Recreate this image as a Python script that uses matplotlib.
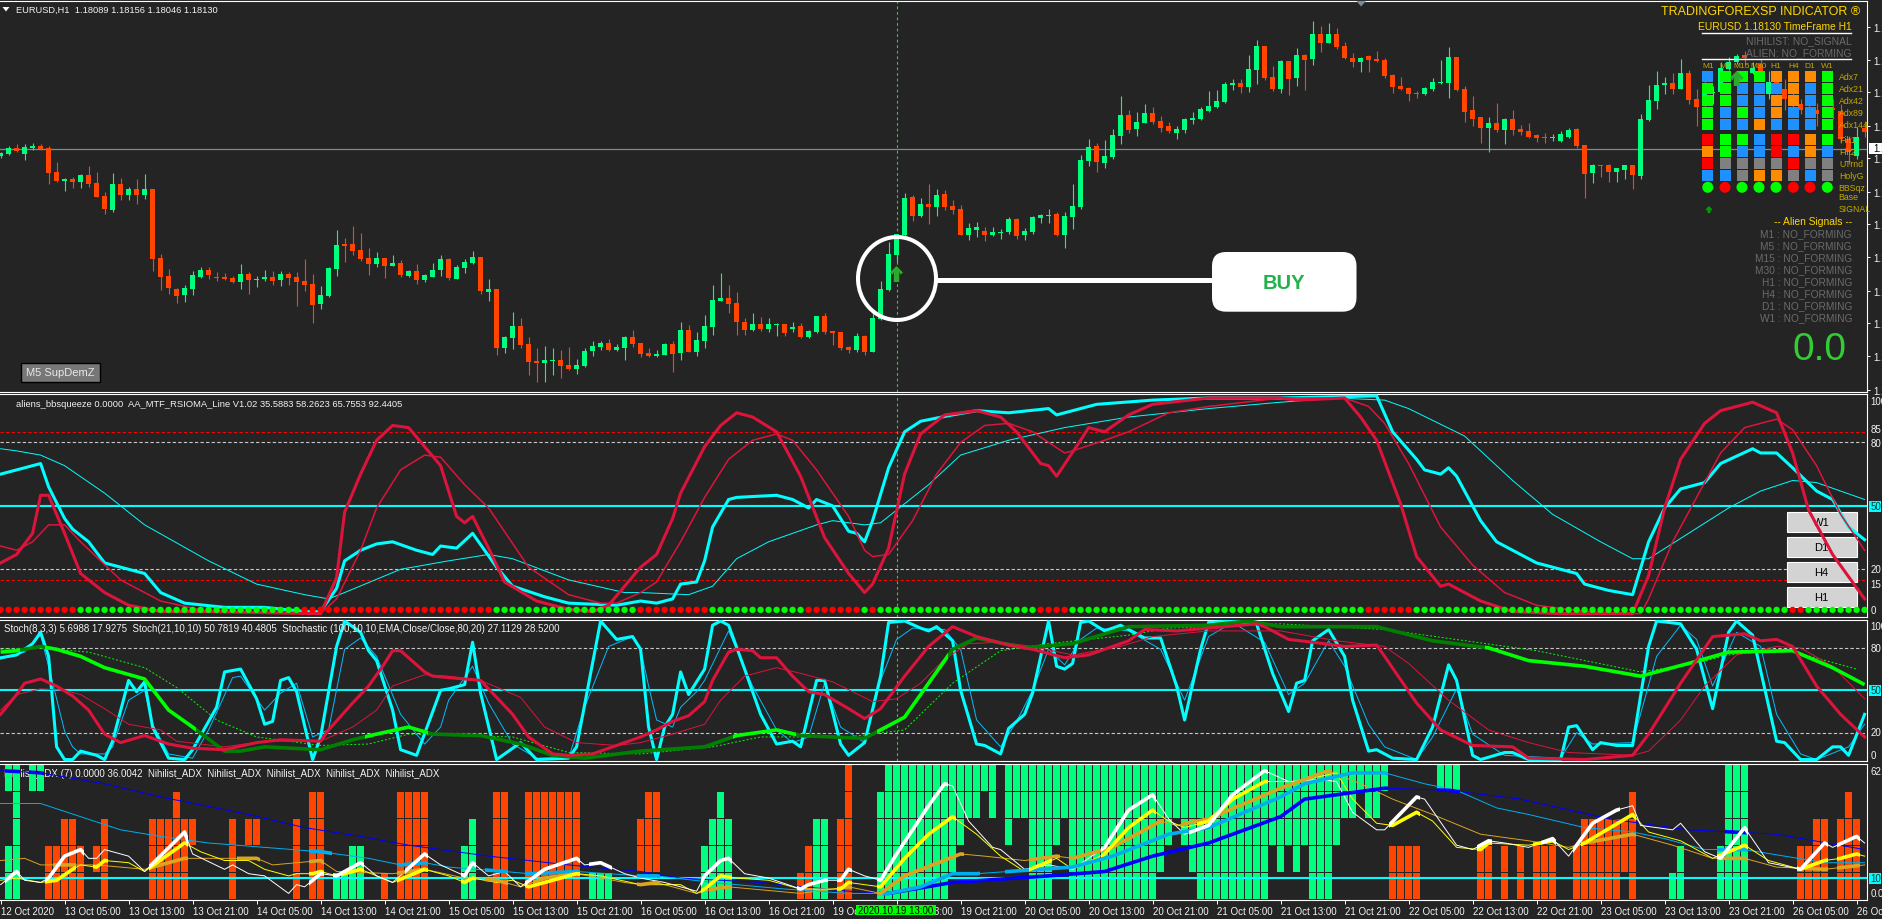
import numpy as np
import matplotlib
matplotlib.use("Agg")
import matplotlib.pyplot as plt
from matplotlib.lines import Line2D
from matplotlib.patches import Ellipse, FancyBboxPatch, Polygon, Rectangle
from matplotlib.transforms import Affine2D

plt.rcParams['font.family'] = ['Liberation Sans', 'DejaVu Sans']

# candles, read in chart points (1 pt = 1/3 px, measured downwards)
bar_high = [
    460, 441, 435, 436, 432, 436, 441, 489, 536, 534,
    525, 501, 519, 579, 522, 537, 564, 540, 525, 570,
    765, 810, 867, 858, 816, 804, 804, 819, 822, 831,
    795, 819, 831, 813, 816, 816, 819, 819, 780, 825,
    861, 804, 693, 717, 681, 702, 747, 759, 777, 768,
    783, 813, 795, 825, 792, 768, 777, 798, 780, 756,
    774, 840, 870, 1011, 939, 957, 1014, 1047, 1041, 1047,
    1053, 1044, 1080, 1047, 1026, 1026, 1020, 1035, 1011, 993,
    1032, 1047, 1053, 1032, 1026, 969, 978, 999, 948, 858,
    822, 858, 879, 957, 942, 954, 957, 972, 975, 969,
    972, 993, 951, 942, 996, 999, 1041, 1002, 1008, 939,
    846, 729, 705, 582, 588, 597, 555, 570, 573, 603,
    618, 672, 669, 684, 684, 690, 654, 657, 687, 651,
    645, 630, 639, 639, 555, 468, 420, 432, 423, 390,
    291, 333, 339, 315, 324, 351, 369, 381, 357, 339,
    324, 276, 273, 249, 240, 240, 168, 123, 141, 201,
    183, 186, 147, 165, 66, 81, 72, 87, 129, 162,
    174, 168, 156, 177, 225, 234, 264, 276, 264, 237,
    183, 144, 174, 261, 291, 354, 354, 312, 357, 333,
    378, 372, 405, 402, 405, 396, 387, 387, 438, 495,
    498, 495, 507, 498, 498, 345, 258, 216, 234, 222,
    180, 213, 270, 250, 262, 190, 175, 165, 155, 190,
    180, 215, 230, 240, 268, 300, 318, 312, 320, 300,
    315, 410, 385, 365]
bar_low = [
    476, 468, 458, 483, 453, 452, 555, 549, 576, 567,
    567, 564, 594, 645, 639, 603, 603, 615, 600, 816,
    873, 885, 912, 909, 888, 837, 840, 846, 843, 852,
    870, 885, 864, 846, 858, 861, 858, 921, 876, 972,
    930, 894, 831, 789, 768, 786, 828, 804, 837, 801,
    834, 834, 855, 849, 834, 831, 843, 840, 822, 795,
    885, 906, 1068, 1062, 1050, 1047, 1128, 1149, 1149, 1128,
    1137, 1113, 1125, 1104, 1071, 1053, 1056, 1056, 1083, 1044,
    1074, 1074, 1074, 1068, 1119, 1083, 1059, 1071, 1047, 1008,
    906, 942, 1008, 1008, 996, 996, 999, 1011, 1011, 999,
    1017, 1017, 1002, 1005, 1038, 1053, 1062, 1059, 1068, 1059,
    963, 876, 789, 711, 666, 654, 675, 651, 633, 645,
    708, 723, 714, 726, 711, 720, 705, 720, 723, 705,
    672, 672, 711, 747, 690, 630, 501, 519, 507, 480,
    435, 402, 411, 372, 375, 399, 402, 420, 402, 375,
    363, 339, 327, 312, 273, 282, 279, 255, 243, 276,
    282, 288, 262, 273, 198, 159, 132, 150, 180, 204,
    219, 219, 189, 237, 282, 273, 306, 297, 288, 276,
    255, 297, 276, 369, 381, 432, 459, 399, 435, 408,
    408, 417, 429, 432, 426, 429, 417, 447, 597, 552,
    534, 549, 549, 540, 570, 540, 366, 330, 285, 285,
    270, 315, 381, 320, 315, 280, 213, 195, 200, 225,
    240, 300, 285, 332, 340, 345, 340, 382, 345, 360,
    432, 495, 480, 415]
bar_open = [
    470, 465, 447, 465, 446, 442, 448, 519, 545, 541,
    549, 528, 552, 591, 633, 555, 588, 570, 588, 570,
    777, 831, 870, 888, 870, 834, 813, 834, 834, 837,
    849, 825, 842, 840, 834, 843, 825, 834, 846, 855,
    915, 891, 810, 735, 735, 753, 777, 795, 777, 801,
    792, 831, 816, 843, 834, 813, 780, 840, 807, 792,
    774, 879, 870, 1047, 1017, 981, 1035, 1086, 1092, 1086,
    1083, 1098, 1110, 1101, 1056, 1044, 1032, 1053, 1047, 1014,
    1032, 1062, 1071, 1068, 1035, 1062, 993, 1059, 1026, 984,
    906, 897, 912, 969, 993, 975, 990, 977, 975, 990,
    981, 1014, 999, 951, 996, 999, 1044, 1053, 1011, 1059,
    960, 873, 768, 708, 594, 651, 615, 624, 585, 621,
    630, 708, 693, 696, 708, 702, 699, 660, 708, 699,
    657, 651, 645, 708, 654, 624, 486, 441, 492, 474,
    411, 348, 390, 372, 342, 366, 381, 402, 393, 363,
    360, 336, 324, 309, 258, 252, 264, 213, 141, 234,
    270, 186, 237, 168, 180, 105, 132, 105, 141, 177,
    189, 171, 180, 183, 228, 261, 267, 282, 285, 270,
    252, 252, 174, 270, 333, 354, 387, 372, 393, 360,
    390, 396, 408, 414, 417, 426, 414, 390, 438, 522,
    498, 498, 519, 513, 498, 531, 363, 306, 258, 252,
    270, 222, 300, 288, 283, 278, 210, 190, 168, 222,
    195, 285, 250, 270, 296, 315, 325, 333, 325, 327,
    335, 420, 472, 388]
bar_close = [
    462, 447, 456, 445, 440, 449, 522, 546, 540, 549,
    528, 555, 594, 630, 555, 588, 570, 588, 570, 780,
    834, 867, 891, 867, 828, 813, 828, 837, 840, 849,
    825, 843, 840, 834, 846, 825, 837, 849, 858, 918,
    888, 807, 738, 741, 756, 780, 795, 777, 801, 792,
    828, 816, 843, 828, 813, 780, 837, 804, 789, 774,
    876, 870, 1047, 1014, 981, 1038, 1089, 1092, 1083, 1083,
    1101, 1110, 1098, 1056, 1041, 1032, 1053, 1044, 1014, 1035,
    1065, 1071, 1065, 1035, 1065, 993, 1059, 1023, 981, 903,
    897, 915, 969, 993, 975, 990, 975, 974, 1002, 984,
    1014, 996, 951, 999, 1002, 1047, 1053, 1011, 1059, 957,
    870, 765, 705, 597, 651, 615, 624, 588, 624, 633,
    708, 687, 684, 708, 699, 700, 660, 711, 696, 654,
    648, 648, 708, 651, 621, 483, 444, 489, 471, 408,
    348, 393, 369, 342, 369, 387, 396, 390, 360, 357,
    330, 321, 306, 255, 252, 264, 210, 141, 237, 270,
    186, 240, 168, 183, 105, 132, 105, 144, 177, 189,
    177, 183, 186, 231, 264, 270, 285, 285, 267, 249,
    250, 174, 273, 339, 360, 387, 372, 393, 360, 393,
    399, 414, 417, 417, 414, 405, 393, 441, 525, 498,
    500, 519, 507, 498, 528, 360, 303, 258, 252, 270,
    222, 303, 324, 278, 278, 208, 190, 170, 177, 208,
    215, 250, 268, 300, 316, 333, 332, 345, 332, 333,
    420, 460, 415, 400]

price_ticks = [1.18807, 1.18624, 1.18443, 1.18258, 1.18076, 1.17891,
               1.17710, 1.17527, 1.17342, 1.17161, 1.16977, 1.16792]
last_price = 1.18130

# RSIOMA panel
rsi_fast_x = [0, 2, 5, 6, 8, 9, 11, 13, 15, 18, 20, 23, 28, 33, 38, 40, 42, 43, 45, 47, 49, 52, 54, 55, 57, 59, 62, 64, 68, 71, 77, 80,
              82, 84, 85, 87, 88, 89, 91, 92, 97, 99, 101, 102, 104, 106, 107, 108, 109, 111, 113, 115, 119, 122, 126, 131, 132, 134, 137, 144, 151, 160,
              172, 174, 177, 178, 180, 181, 182, 185, 187, 192, 197, 198, 201, 204, 206, 208, 210, 213, 215, 219, 220, 222, 224, 227, 229, 231, 233]
rsi_fast_y = [65, 67, 70, 59, 44, 39, 33, 23, 21, 18, 9, 4, 2, 2, 0, 0, 11, 24, 29, 32, 33, 29, 27, 31, 30, 37, 21, 12, 7, 4, 3, 5,
              4, 6, 13, 14, 24, 40, 53, 54, 55, 53, 49, 53, 50, 38, 37, 33, 43, 68, 85, 90, 93, 95, 94, 96, 93, 95, 98, 100, 101, 101,
              102, 85, 72, 67, 65, 68, 64, 43, 33, 23, 18, 13, 10, 8, 33, 49, 58, 61, 70, 77, 75, 75, 68, 57, 53, 40, 34]
rsi_slow_x = [0, 2, 5, 8, 13, 18, 26, 32, 38, 41, 43, 50, 56, 61, 64, 71, 78, 80, 86, 89, 92, 96, 102, 104, 108, 110, 112, 116, 120, 126, 133, 141, 151, 160,
              167, 173, 176, 183, 189, 194, 200, 204, 206, 211, 216, 220, 224, 227, 233]
rsi_slow_y = [77, 76, 74, 69, 56, 41, 24, 13, 8, 6, 9, 20, 24, 27, 25, 15, 9, 9, 8, 12, 25, 33, 41, 43, 41, 42, 48, 60, 74, 81, 87, 92, 96, 99,
              101, 100, 96, 83, 62, 46, 33, 25, 25, 37, 49, 57, 62, 61, 53]
rsi_red_fast_x = [0, 2, 4, 5, 6, 8, 10, 13, 16, 20, 26, 40, 42, 43, 45, 47, 49, 51, 55, 57, 58, 59, 61, 63, 67, 71, 74, 76, 80,
                  82, 84, 85, 88, 90, 92, 94, 97, 100, 103, 106, 108, 109, 111, 113, 115, 118, 122, 125, 127, 130, 131, 132, 135, 136, 138, 141, 144, 151, 160,
                  162, 168, 170, 172, 175, 177, 180, 181, 185, 189, 195, 204, 206, 208, 210, 213, 215, 219, 222, 224, 226, 229, 233]
rsi_red_fast_y = [23, 27, 37, 55, 55, 37, 18, 9, 3, 0, 0, -1, 16, 47, 65, 81, 88, 87, 69, 45, 42, 45, 30, 14, 5, 1, 0, 3, 21,
                  27, 44, 56, 78, 88, 94, 92, 85, 64, 35, 18, 9, 13, 30, 65, 84, 93, 95, 92, 85, 70, 69, 64, 81, 87, 85, 93, 98, 101, 101,
                  100, 101, 92, 81, 51, 26, 12, 13, 5, 0, -1, -1, 17, 49, 72, 89, 95, 99, 94, 75, 48, 27, 6]
rsi_red_slow_x = [0, 2, 4, 6, 8, 10, 15, 20, 26, 40, 42, 45, 47, 50, 53, 55, 58, 61, 66, 71, 75, 77, 80,
                  82, 85, 88, 91, 94, 97, 99, 102, 106, 108, 109, 111, 114, 117, 120, 123, 126, 129, 133, 134, 138, 141, 146, 151, 160,
                  168, 171, 173, 176, 180, 184, 188, 192, 198, 205, 206, 209, 213, 215, 218, 222, 224, 227, 230, 233]
rsi_red_slow_y = [31, 29, 33, 41, 41, 33, 15, 5, 0, -1, 6, 29, 49, 67, 74, 73, 60, 49, 21, 8, 4, 4, 9,
                  14, 33, 54, 72, 81, 84, 81, 67, 45, 29, 26, 27, 43, 65, 80, 88, 89, 85, 75, 76, 81, 85, 94, 97, 101,
                  101, 97, 89, 70, 40, 22, 9, 3, 0, -1, 6, 33, 61, 75, 87, 91, 86, 69, 46, 29]
squeeze_green_runs = [(10, 37), (62, 79), (89, 100), (108, 108), (110, 129), (134, 170), (177, 223), (226, 233)]
rsi_levels_red = [85, 15]
rsi_levels_grey = [80, 20]

# Stochastic panel
stoch_fast_x = [0, 2, 4, 5, 6, 7, 8, 9, 10, 12, 13, 14, 16, 17, 18, 19, 21, 23, 24, 27, 28, 30, 32, 33, 34, 35, 36, 37, 39, 40, 42, 43, 45, 46, 47, 49, 50, 52, 55, 56, 58, 59, 60, 62, 65, 67, 71, 72, 75, 77, 79, 80,
                81, 82, 83, 84, 85, 86, 88, 89, 90, 91, 93, 95, 97, 99, 100, 102, 103, 105, 106, 108, 110, 111, 113, 115, 116, 117, 119, 120, 122, 123, 125, 126, 128, 129, 131, 132, 133, 134, 135, 136, 138, 140, 143, 145, 147, 148, 150, 151, 154, 157,
                159, 161, 162, 163, 164, 166, 168, 169, 171, 172, 174, 177, 179, 181, 182, 184, 185, 188, 189, 191, 195, 196, 197, 199, 200, 202, 204, 206, 207, 210, 212, 214, 216, 217, 219, 222, 223, 225, 227, 229, 230, 231, 233]
stoch_fast_y = [73, 75, 83, 91, 74, 10, 1, 1, 7, 4, 1, 14, 57, 49, 56, 24, 2, 1, 8, 38, 63, 65, 44, 26, 28, 57, 59, 49, 1, 17, 81, 99, 91, 78, 71, 36, 8, 4, 50, 51, 54, 84, 48, 1, 13, 1, 2, 10, 99, 86, 88, 79,
                24, 1, 24, 33, 63, 47, 65, 96, 99, 96, 65, 33, 12, 14, 10, 57, 57, 12, 4, 13, 60, 98, 99, 94, 92, 95, 85, 50, 12, 11, 5, 23, 33, 48, 99, 67, 65, 69, 98, 99, 92, 96, 87, 87, 53, 29, 79, 98, 99, 97,
                62, 35, 55, 57, 85, 93, 74, 43, 7, 8, 2, 1, 24, 68, 57, 4, 1, 6, 6, 1, 1, 24, 25, 8, 13, 11, 11, 81, 99, 97, 79, 37, 91, 99, 89, 14, 13, 1, 1, 10, 10, 4, 33]
stoch_slow_x = [0, 3, 5, 6, 8, 9, 10, 13, 14, 16, 18, 19, 21, 24, 26, 29, 30, 33, 35, 37, 39, 41, 43, 45, 47, 50, 53, 55, 56, 59, 61, 64, 67, 71, 73, 76, 79, 80, 81, 82, 84, 85, 87, 88, 91, 92, 94, 97, 99, 101, 103, 105, 108, 110, 112, 114, 118, 120, 122, 125, 127, 129, 131, 133, 135, 137, 141, 145, 148, 151, 154, 158,
                161, 163, 166, 168, 171, 173, 177, 179, 182, 184, 188, 195, 197, 199, 204, 207, 210, 212, 214, 217, 220, 222, 225, 227, 231, 233]
stoch_slow_y = [72, 77, 89, 67, 21, 10, 5, 5, 10, 43, 50, 26, 5, 2, 22, 59, 60, 36, 48, 55, 17, 22, 79, 87, 74, 33, 12, 24, 43, 67, 41, 12, 2, 2, 38, 81, 88, 79, 53, 29, 24, 38, 49, 57, 92, 79, 53, 22, 13, 17, 55, 24, 13, 57, 86, 94, 93, 79, 29, 10, 28, 50, 79, 68, 86, 94, 92, 79, 43, 88, 98, 84,
                47, 55, 85, 67, 26, 10, 1, 17, 51, 19, 4, 2, 20, 12, 13, 74, 96, 86, 53, 91, 81, 33, 5, 1, 10, 26]
stoch_red_x = [0, 2, 3, 5, 7, 9, 11, 13, 15, 18, 21, 24, 28, 32, 35, 40, 41, 44, 46, 48, 49, 50, 53, 54, 58, 60, 62, 64, 66, 69, 71, 74, 78, 80, 82, 84, 86, 88, 89, 91, 92, 94, 95, 97, 99, 101, 103, 106, 108, 110, 113, 116, 119, 122, 126, 129, 133, 136, 141, 143, 147, 151, 157,
               158, 161, 164, 168, 172, 173, 177, 180, 184, 189, 191, 198, 204, 206, 210, 214, 218, 220, 222, 224, 227, 230, 233]
stoch_red_y = [33, 47, 55, 58, 53, 46, 36, 19, 13, 18, 12, 9, 8, 13, 15, 14, 22, 41, 53, 69, 78, 78, 63, 60, 58, 57, 45, 33, 17, 5, 4, 5, 13, 17, 22, 28, 32, 42, 57, 77, 79, 78, 73, 73, 60, 49, 47, 37, 30, 37, 60, 81, 95, 88, 82, 79, 73, 75, 85, 93, 92, 94, 97,
               95, 86, 84, 81, 82, 74, 41, 22, 11, 10, 2, 1, 4, 19, 55, 88, 90, 85, 86, 81, 53, 33, 17]
stoch_red_slow_x = [0, 2, 5, 8, 10, 13, 16, 20, 22, 28, 33, 40, 44, 47, 49, 53, 56, 60, 65, 68, 72, 77, 80, 84, 88, 90, 93, 97, 100, 104, 109, 112, 115, 118, 121, 125, 129, 134, 140, 144, 151, 160,
                    167, 173, 176, 181, 186, 191, 196, 204, 206, 210, 213, 217, 222, 225, 229, 233]
stoch_red_slow_y = [36, 47, 51, 50, 47, 37, 26, 22, 14, 10, 14, 14, 24, 36, 53, 61, 60, 57, 45, 24, 13, 11, 13, 19, 26, 43, 60, 66, 62, 56, 42, 44, 55, 72, 83, 84, 81, 75, 81, 88, 92, 92,
                    85, 81, 69, 43, 22, 13, 6, 4, 7, 29, 53, 75, 81, 80, 67, 44]
stoch_green_x = [0, 2, 5, 7, 10, 13, 18, 21, 24, 28, 30, 33, 40, 44, 47, 51, 54, 60, 65, 69, 73, 80, 88, 92, 97, 100, 108, 113, 119, 122, 128, 134, 141, 151, 156, 160, 172, 179, 186, 191, 198, 205, 211, 216, 224, 229, 233]
stoch_green_y = [77, 78, 81, 79, 74, 66, 58, 36, 24, 7, 7, 10, 8, 15, 19, 24, 19, 18, 12, 4, 2, 7, 10, 18, 22, 18, 16, 31, 79, 87, 80, 83, 95, 96, 99, 95, 95, 85, 80, 71, 67, 60, 69, 77, 78, 66, 54]
stoch_green_bright = [(0, 2), (6, 24), (46, 53), (92, 99), (110, 118), (186, 233)]
stoch_green_dark = [(2, 6), (24, 46), (53, 92), (99, 110), (118, 186)]
stoch_dots_x = [0, 5, 11, 18, 22, 27, 32, 40, 46, 51, 56, 64, 71, 80, 89, 95, 106, 113, 119, 125, 131, 141, 146, 160, 173, 192, 205, 211, 216, 223, 232]
stoch_dots_y = [79, 80, 77, 66, 52, 29, 17, 11, 12, 19, 18, 17, 6, 5, 10, 17, 17, 22, 55, 78, 83, 89, 94, 97, 93, 78, 63, 68, 75, 79, 65]
stoch_levels_grey = [80, 20]

# Nihilist ADX panel: five rows of blocks, runs of bars that are lit in each row
adx_row1_green = [(1, 2), (4, 5), (111, 124), (126, 173), (180, 182), (216, 218)]
adx_row1_red = [(106, 106)]
adx_row2_green = [(2, 2), (90, 90), (110, 122), (124, 124), (126, 169), (171, 172), (216, 218)]
adx_row2_red = [(22, 22), (39, 40), (50, 53), (62, 63), (66, 72), (81, 82), (106, 106), (204, 204), (231, 231)]
adx_row3_green = [(2, 2), (59, 59), (89, 91), (102, 103), (110, 120), (126, 126), (129, 132), (134, 146), (148, 167), (216, 218)]
adx_row3_red = [(8, 9), (13, 13), (19, 24), (29, 29), (31, 32), (37, 37), (39, 40), (50, 53), (62, 63), (66, 72), (80, 82), (105, 106), (198, 204), (227, 228), (230, 232)]
adx_row4_green = [(1, 2), (44, 45), (58, 59), (88, 91), (102, 103), (110, 119), (129, 131), (134, 145), (149, 158), (160, 160), (162, 162), (164, 166), (210, 210), (215, 218)]
adx_row4_red = [(6, 10), (12, 13), (19, 23), (29, 29), (37, 37), (39, 40), (50, 53), (62, 63), (66, 72), (80, 82), (101, 101), (105, 106), (174, 177), (185, 186), (188, 188), (190, 190), (192, 194), (197, 204), (225, 228), (230, 232)]
adx_row5_green = [(1, 2), (42, 45), (58, 59), (74, 76), (88, 91), (102, 103), (110, 118), (129, 131), (134, 144), (150, 158), (164, 166), (209, 210), (215, 218)]
adx_row5_red = [(6, 10), (13, 13), (19, 23), (29, 29), (37, 37), (39, 40), (48, 48), (50, 53), (62, 63), (66, 72), (100, 101), (105, 106), (174, 177), (185, 186), (188, 188), (190, 190), (192, 194), (197, 202), (204, 204), (225, 228), (230, 232)]

adx_white_x = [0, 2, 3, 5, 6, 8, 10, 11, 12, 13, 16, 18, 23, 24, 28, 29, 31, 33, 36, 37, 38, 40, 42, 45, 47, 49, 53, 55, 58, 59, 61, 63, 65, 68, 72, 73, 75, 78, 80,
               83, 87, 88, 90, 91, 93, 96, 100, 101, 103, 105, 106, 108, 110, 112, 116, 118, 119, 121, 124, 125, 128, 131, 134, 138, 141, 144, 146, 148, 151, 154, 158,
               161, 165, 167, 169, 172, 173, 177, 178, 182, 184, 186, 188, 191, 194, 196, 199, 202, 204, 205, 209, 210, 213, 215, 218, 221, 225, 228, 229, 232, 233]
adx_white_y = [7, 13, 9, 8, 10, 20, 23, 19, 19, 23, 20, 13, 31, 21, 14, 16, 12, 11, 3, 7, 6, 12, 11, 17, 11, 8, 21, 16, 11, 17, 11, 13, 6, 14, 19, 16, 17, 12, 10,
               8, 4, 11, 18, 19, 12, 10, 5, 7, 9, 9, 14, 11, 9, 21, 43, 53, 52, 36, 24, 23, 14, 16, 14, 24, 41, 48, 37, 30, 34, 48, 59,
               54, 55, 54, 40, 32, 32, 47, 46, 25, 23, 27, 26, 24, 28, 20, 35, 41, 43, 34, 32, 35, 22, 19, 33, 17, 14, 26, 24, 29, 26]
adx_white_thick = [(1, 2), (6, 10), (19, 23), (39, 40), (42, 45), (51, 53), (58, 59), (66, 72), (74, 76), (88, 91), (100, 103), (105, 106), (110, 118), (138, 144), (149, 158), (174, 177), (185, 186), (193, 194), (197, 202), (215, 218), (225, 228), (230, 232)]
adx_yellow_x = [0, 2, 5, 7, 9, 10, 12, 13, 16, 18, 23, 25, 28, 31, 33, 36, 37, 39, 40, 42, 45, 47, 49, 53, 56, 58, 59, 62, 64, 66, 72, 75, 80,
                85, 87, 88, 90, 92, 96, 100, 103, 105, 106, 110, 113, 116, 119, 122, 125, 128, 132, 134, 138, 141, 144, 146, 148, 151, 154, 158,
                162, 167, 169, 172, 174, 177, 179, 182, 185, 186, 191, 194, 196, 198, 204, 206, 210, 214, 218, 221, 225, 228, 230, 232, 233]
adx_yellow_y = [9, 10, 8, 9, 14, 16, 15, 18, 17, 13, 26, 22, 18, 18, 14, 11, 12, 12, 13, 11, 14, 11, 8, 14, 11, 8, 10, 8, 9, 6, 12, 11, 7,
                7, 3, 5, 11, 10, 9, 5, 5, 5, 8, 6, 19, 30, 38, 30, 20, 13, 19, 14, 21, 33, 41, 36, 33, 36, 46, 54,
                54, 58, 46, 35, 34, 40, 36, 24, 23, 26, 25, 27, 23, 26, 39, 31, 27, 19, 25, 18, 14, 18, 19, 21, 20]
adx_yellow_thick = [(6, 9), (12, 13), (19, 23), (39, 40), (43, 45), (50, 53), (58, 59), (66, 72), (88, 91), (105, 106), (110, 119), (129, 131), (138, 144), (150, 158), (174, 177), (185, 186), (192, 194), (198, 204), (215, 218), (225, 228), (230, 232)]
adx_gold_x = [0, 3, 5, 8, 12, 18, 23, 27, 32, 34, 40, 42, 49, 53, 58, 62, 65, 68, 72, 78, 80, 82, 87, 89, 91, 100, 106, 110, 113, 120, 123, 128, 132, 134, 139, 145, 147, 151, 160,
              166, 170, 174, 179, 185, 191, 196, 198, 204, 209, 214, 218, 222, 228, 233]
adx_gold_y = [18, 19, 16, 16, 16, 14, 19, 19, 19, 16, 18, 13, 12, 14, 10, 9, 6, 10, 12, 8, 7, 8, 3, 5, 6, 3, 6, 3, 11, 21, 20, 18, 20, 19, 24, 36, 34, 37, 51,
              59, 53, 46, 39, 30, 27, 24, 26, 30, 25, 19, 19, 15, 14, 16]
adx_gold_thick = [(7, 9), (19, 23), (30, 32), (39, 40), (50, 53), (61, 63), (67, 72), (80, 82), (89, 91), (105, 106), (110, 120), (129, 132), (134, 145), (148, 166), (198, 204), (215, 218), (226, 228), (230, 232)]
adx_sky_x = [0, 5, 10, 15, 20, 26, 33, 40, 46, 50, 53, 56, 63, 66, 72, 80, 82, 89, 98, 106, 111, 115, 119, 122, 126, 134, 139, 146, 151, 160,
             163, 169, 173, 178, 182, 187, 191, 198, 204, 208, 213, 218, 223, 228, 233]
adx_sky_y = [44, 44, 38, 32, 29, 26, 24, 22, 19, 16, 17, 15, 13, 12, 13, 11, 11, 8, 5, 3, 3, 6, 12, 12, 13, 15, 20, 30, 33, 47,
             53, 58, 58, 53, 50, 42, 39, 33, 31, 28, 23, 23, 20, 17, 17]
adx_sky_thick = [(39, 41), (50, 53), (61, 63), (66, 72), (80, 82), (110, 122), (126, 173), (215, 218)]
adx_blue_x = [0, 5, 13, 20, 31, 38, 45, 51, 61, 71, 80, 85, 95, 106, 111, 119, 131, 138, 144, 151, 160, 163, 173, 181, 190, 201, 211, 222, 233]
adx_blue_y = [59, 58, 53, 47, 39, 33, 29, 25, 20, 16, 13, 10, 8, 4, 3, 8, 11, 13, 20, 26, 38, 46, 51, 50, 46, 37, 32, 30, 23]
adx_blue_thick = [(1, 2), (4, 5), (110, 173), (180, 182), (216, 218)]
adx_level = 10

# time axis, one label every 8 bars
time_labels = ['12 Oct 2020', '13 Oct 05:00', '13 Oct 13:00', '13 Oct 21:00', '14 Oct 05:00', '14 Oct 13:00',
               '14 Oct 21:00', '15 Oct 05:00', '15 Oct 13:00', '15 Oct 21:00', '16 Oct 05:00', '16 Oct 13:00',
               '16 Oct 21:00', '19 Oct 05:00', '19 Oct 13:00', '19 Oct 21:00', '20 Oct 05:00', '20 Oct 13:00',
               '20 Oct 21:00', '21 Oct 05:00', '21 Oct 13:00', '21 Oct 21:00', '22 Oct 05:00', '22 Oct 13:00',
               '22 Oct 21:00', '23 Oct 05:00', '23 Oct 13:00', '23 Oct 21:00', '26 Oct 05:00', '26 Oct 13:00']
signal_bar = 112

# dashboard
dash_columns = ['M1', 'M5', 'M15', 'M30', 'H1', 'H4', 'D1', 'W1']
dash_adx_rows = ['Adx7', 'Adx21', 'Adx42', 'Adx89', 'Adx144']
dash_adx_cells = ['bgggooog', 'ggbbbobg', 'ggbboobg', 'gbgbobbg', 'gbbobbbg']
dash_flt_rows = ['Filt1', 'Filt2', 'UTrnd', 'HolyG']
dash_flt_cells = ['rggbrrog', 'ogbbrbob', 'rxxxxrxx', 'bbxooxbx']
dash_squeeze = 'grgggrrg'
alien_rows = ['M1 : NO_FORMING', 'M5 : NO_FORMING', 'M15 : NO_FORMING', 'M30 : NO_FORMING',
              'H1 : NO_FORMING', 'H4 : NO_FORMING', 'D1 : NO_FORMING', 'W1 : NO_FORMING']

BG = '#242424'
UP = '#00ff7f'
DOWN = '#ff4500'
CRIMSON = '#dc143c'
CYAN = '#00ffff'
GOLD = '#ffd700'
DIM_GOLD = '#bfa800'
LABEL = '#f2f2f2'
GREY = '#6b6b6b'
CELL = {'b': '#1e90ff', 'g': '#00ff00', 'o': '#ff8c00', 'r': '#ff0000', 'x': '#808080'}
W, H = 1883, 920
AXIS_X = 1867.5

# everything decorative is placed in image pixels, y going down
px = Affine2D().scale(1, -1).translate(0, H)


def to_price(pts):
    return last_price + (449 - np.asarray(pts, dtype=float)) * 0.0000185


def panel(top, bottom):
    ax = fig.add_axes([0, 1 - bottom / H, AXIS_X / W, (bottom - top) / H], facecolor=BG)
    ax.set_xlim(-0.075, (AXIS_X - 0.6) / 8)
    for side in ['top', 'bottom', 'right']:
        ax.spines[side].set_color('white')
        ax.spines[side].set_linewidth(0.8)
    ax.spines['left'].set_visible(False)
    ax.tick_params(left=False, bottom=False, labelleft=False, labelbottom=False)
    ax.axvline(signal_bar, color='#32cd32', lw=0.8, ls=(0, (2.5, 2.5)), zorder=1.2)
    return ax


def runs_line(ax, x, y, runs, **kw):
    # the same polyline, only shown inside the given bar ranges
    y0, y1 = ax.get_ylim()
    for a, b in runs:
        ln, = ax.plot(x, y, solid_capstyle='butt', **kw)
        ln.set_clip_path(Rectangle((a - 0.4, y0), b - a + 0.8, y1 - y0, transform=ax.transData))


def px_text(x, y, s, color=LABEL, size=7, ha='left', **kw):
    return fig.text(x, y, s, color=color, fontsize=size, ha=ha, va='center', transform=px, **kw)


def up_arrow(cx, top, bottom, half, color):
    shaft = half * 0.42
    neck = top + half * 1.0
    pts = [(cx, top), (cx + half, neck), (cx + half * 0.6, neck + half * 0.35), (cx + shaft, neck - half * 0.1),
           (cx + shaft, bottom), (cx - shaft, bottom), (cx - shaft, neck - half * 0.1),
           (cx - half * 0.6, neck + half * 0.35), (cx - half, neck)]
    fig.add_artist(Polygon(pts, closed=True, fc=color, ec='none', transform=px, zorder=2))


fig = plt.figure(figsize=(W / 100, H / 100), dpi=100, facecolor=BG)

# --- price panel
ax_main = panel(2, 393)
ax_main.set_ylim(to_price(1179), to_price(6))
bars = np.arange(len(bar_close))
o = to_price(bar_open)
c = to_price(bar_close)
colors = [UP if cl >= op else DOWN for op, cl in zip(o, c)]
ax_main.axhline(last_price, color='#7a8a99', lw=0.9, zorder=1)
ax_main.vlines(bars, to_price(bar_low), to_price(bar_high), colors=colors, lw=0.8, zorder=2)
ax_main.bar(bars, np.maximum(np.abs(c - o), 0.00002), bottom=np.minimum(o, c), width=0.66, color=colors, lw=0, zorder=3)
ax_main.yaxis.tick_right()
ax_main.set_yticks(price_ticks)
ax_main.set_yticklabels(['%.5f' % p for p in price_ticks], color=LABEL, fontsize=7)
ax_main.tick_params(axis='y', right=True, labelright=True, color='white', length=2.5, width=0.7, pad=1.5)

# --- RSIOMA panel
ax_rsi = panel(395.4, 618)
ax_rsi.set_ylim(-2.56, 102.7)
for lv in rsi_levels_red:
    ax_rsi.axhline(lv, color='#ff0000', lw=0.8, ls=(0, (3, 2)), zorder=1)
for lv in rsi_levels_grey:
    ax_rsi.axhline(lv, color='#c8c8c8', lw=0.8, ls=(0, (3, 2)), zorder=1)
ax_rsi.axhline(50, color=CYAN, lw=1.5, zorder=1)
for label, y0 in zip(['W1', 'D1', 'H4', 'H1'], [513.4, 538.4, 563.4, 588.4]):
    ax_rsi.add_patch(Rectangle((1787, y0), 69.5, 19.3, fc='#d3d3d3', ec='white', lw=0.8, transform=px, zorder=1.5, clip_on=False))
    ax_rsi.text(1821, y0 + 9.6, label, color='black', fontsize=8, ha='center', va='center', transform=px, zorder=1.6)
ax_rsi.plot(rsi_slow_x, rsi_slow_y, color=CYAN, lw=0.7, zorder=3)
ax_rsi.plot(rsi_fast_x, rsi_fast_y, color=CYAN, lw=2.2, zorder=3.1)
ax_rsi.plot(rsi_red_slow_x, rsi_red_slow_y, color=CRIMSON, lw=1.1, zorder=3.2)
ax_rsi.plot(rsi_red_fast_x, rsi_red_fast_y, color=CRIMSON, lw=2.2, zorder=3.3)
dot_colors = ['#ff0000'] * len(bars)
for a, b in squeeze_green_runs:
    for k in range(a, b + 1):
        dot_colors[k] = '#00ff00'
ax_rsi.scatter(bars, np.full(len(bars), 0.8), s=21, c=dot_colors, lw=0, zorder=4)

# --- Stochastic panel
ax_sto = panel(620.6, 762)
ax_sto.set_ylim(0, 100)
for lv in stoch_levels_grey:
    ax_sto.axhline(lv, color='#c8c8c8', lw=0.8, ls=(0, (3, 2)), zorder=1)
ax_sto.axhline(50, color=CYAN, lw=1.5, zorder=1)
ax_sto.plot(stoch_dots_x, stoch_dots_y, color='#00ff00', lw=0.7, ls=(0, (2, 2)), zorder=2)
ax_sto.plot(stoch_slow_x, stoch_slow_y, color='#00bfff', lw=0.7, zorder=3)
ax_sto.plot(stoch_fast_x, stoch_fast_y, color=CYAN, lw=2.2, zorder=3.1)
ax_sto.plot(stoch_red_slow_x, stoch_red_slow_y, color=CRIMSON, lw=0.7, zorder=3.2)
runs_line(ax_sto, stoch_green_x, stoch_green_y, stoch_green_dark, color='#008000', lw=2.6, zorder=3.3)
runs_line(ax_sto, stoch_green_x, stoch_green_y, stoch_green_bright, color='#00ff00', lw=2.6, zorder=3.3)
ax_sto.plot(stoch_red_x, stoch_red_y, color=CRIMSON, lw=2.2, zorder=3.4)

# --- ADX panel
ax_adx = panel(764.6, 901)
ax_adx.set_ylim(0, 62.2)
ax_adx.text(4, 773.7, 'Nihilist_ADX (7) 0.0000 36.0042  Nihilist_ADX  Nihilist_ADX  Nihilist_ADX  Nihilist_ADX  Nihilist_ADX',
            color=LABEL, fontsize=7, va='center', transform=px, zorder=1)
rows = [(adx_row5_green, adx_row5_red), (adx_row4_green, adx_row4_red), (adx_row3_green, adx_row3_red),
        (adx_row2_green, adx_row2_red), (adx_row1_green, adx_row1_red)]
for level, (green, red) in enumerate(rows):
    for runs, col in [(green, UP), (red, DOWN)]:
        xs = [k for a, b in runs for k in range(a, b + 1)]
        ax_adx.bar(xs, 12, bottom=0.3 + level * 12.31, width=0.88, color=col, lw=0, zorder=2)
ax_adx.axhline(adx_level, color=CYAN, lw=1.5, zorder=2.5)
for x, y, thick, col in [(adx_blue_x, adx_blue_y, adx_blue_thick, '#0000ff'),
                         (adx_sky_x, adx_sky_y, adx_sky_thick, '#00aeef'),
                         (adx_gold_x, adx_gold_y, adx_gold_thick, '#daa520'),
                         (adx_yellow_x, adx_yellow_y, adx_yellow_thick, '#ffff00'),
                         (adx_white_x, adx_white_y, adx_white_thick, '#ffffff')]:
    ax_adx.plot(x, y, color=col, lw=0.7, zorder=3)
    runs_line(ax_adx, x, y, thick, color=col, lw=2.6, zorder=3.5)
ax_adx.set_xticks(np.arange(len(time_labels)) * 8)
ax_adx.set_xticklabels(time_labels, color=LABEL, fontsize=7, ha='left')
ax_adx.tick_params(axis='x', bottom=True, labelbottom=True, color='white', length=3, width=0.7, pad=1.5)

# --- texts over the panels
px_text(15.5, 10, 'EURUSD,H1  1.18089 1.18156 1.18046 1.18130', size=6.7)
fig.add_artist(Polygon([(2.5, 8), (9.5, 8), (6, 12.5)], closed=True, fc='white', ec='none', transform=px))
fig.add_artist(Polygon([(1356.5, 2), (1366, 2), (1361, 7.5)], closed=True, fc='#7a8a99', ec='none', transform=px))
px_text(15.5, 404.5, 'aliens_bbsqueeze 0.0000  AA_MTF_RSIOMA_Line V1.02 35.5883 58.2623 65.7553 92.4405', size=6.75)
px_text(4, 629, 'Stoch(8,3,3) 5.6988 17.9275  Stoch(21,10,10) 50.7819 40.4805  Stochastic (100,10,10,EMA,Close/Close,80,20) 27.1129 28.5200', size=7)

fig.add_artist(Rectangle((20.5, 363.5), 79, 19.5, fc='#777777', ec='black', lw=1, transform=px))
px_text(60, 373.5, 'M5 SupDemZ', size=8, ha='center', color='#e8e8e8')

# current price tag and panel scales
fig.add_artist(Rectangle((1868.8, 144), 16, 10.5, fc='white', ec='none', transform=px, zorder=2))
px_text(1873, 149.5, '1.18130', color='black', size=7)
for s, y in [('100', 402.5), ('85', 430.5), ('80', 444.5), ('20', 570.5), ('15', 584.7), ('0', 611.5),
             ('100', 627.3), ('80', 649.3), ('20', 733.5), ('0', 755.8), ('62.', 772), ('0.0', 894.5)]:
    px_text(1870.5, y, s, size=7)
for s, y in [('50', 507), ('50', 691), ('10', 879)]:
    fig.add_artist(Rectangle((1869, y - 5.5), 12, 11, fc=CYAN, ec='none', transform=px, zorder=2))
    px_text(1870.5, y, s, color='#0a3a3a', size=7)

fig.add_artist(Rectangle((856, 905.5), 80, 10.5, fc='#00ff00', ec='none', transform=px, zorder=2))
px_text(896, 910.7, '2020.10.19 13:00', color='black', size=7, ha='center')

# BUY annotation
fig.add_artist(Ellipse((897, 279.5), 78, 83, fc='none', ec='white', lw=2.9, transform=px, zorder=2))
fig.add_artist(Line2D([937, 1213], [280.5, 280.5], color='white', lw=3.6, transform=px, zorder=2))
fig.add_artist(FancyBboxPatch((1212, 253), 144.5, 59.7, boxstyle='round,pad=0,rounding_size=14',
                              fc='white', ec='none', transform=px, zorder=2))
px_text(1284, 283.5, 'BUY', color='#22b14c', size=14.5, ha='center', fontweight='bold')
up_arrow(896.5, 267, 283, 6.5, '#2fa82f')

# dashboard
px_text(1860, 12, 'TRADINGFOREXSP INDICATOR \u00ae', color=GOLD, size=9, ha='right')
px_text(1852, 27, 'EURUSD 1.18130 TimeFrame H1', color=GOLD, size=7.35, ha='right')
for y in [34.3, 60.3]:
    fig.add_artist(Line2D([1702, 1851], [y, y], color='white', lw=1, transform=px))
px_text(1852, 41, 'NIHILIST: NO_SIGNAL', color=GREY, size=7.35, ha='right')
px_text(1852, 53, 'ALIEN: NO_FORMING', color=GREY, size=7.35, ha='right')

col_x = [1707.8, 1725, 1742, 1759, 1776, 1793.3, 1810, 1827.3]
for cx, name in zip(col_x, dash_columns):
    px_text(cx, 66.7, name, color=DIM_GOLD, size=6, ha='center')
for i, (name, cells) in enumerate(zip(dash_adx_rows, dash_adx_cells)):
    y0 = 72 + i * 12
    for cx, key in zip(col_x, cells):
        fig.add_artist(Rectangle((cx - 5.5, y0), 11, 11.3, fc=CELL[key], ec='none', transform=px))
    px_text(1839, y0 + 5.2, name, color=DIM_GOLD, size=6.3)
for i, (name, cells) in enumerate(zip(dash_flt_rows, dash_flt_cells)):
    y0 = 135 + i * 12
    for cx, key in zip(col_x, cells):
        fig.add_artist(Rectangle((cx - 5.5, y0), 11, 11.3, fc=CELL[key], ec='none', transform=px))
    px_text(1839, y0 + 5.2, name, color=DIM_GOLD, size=6.3)
for cx, key in zip(col_x, dash_squeeze):
    fig.add_artist(Ellipse((cx, 188.3), 11, 11, fc=CELL[key], ec='none', transform=px))
px_text(1838.5, 188.3, 'BBSqz', color=DIM_GOLD, size=6.3)
px_text(1838.5, 198, 'Base', color=DIM_GOLD, size=6.3)
px_text(1838.5, 210, 'SIGNAL', color=DIM_GOLD, size=6.3)
up_arrow(1709, 207, 214, 3.5, '#00a000')
up_arrow(1736.7, 72, 87, 7, '#2fa82f')

px_text(1852, 222.3, '-- Alien Signals --', color=GOLD, size=7.35, ha='right')
for i, row in enumerate(alien_rows):
    px_text(1852, 234.3 + i * 11.95, row, color=GREY, size=7.25, ha='right')
px_text(1846, 350, '0.0', color='#32cd32', size=28, ha='right')

fig.savefig('out.png', dpi=100, facecolor=BG)
